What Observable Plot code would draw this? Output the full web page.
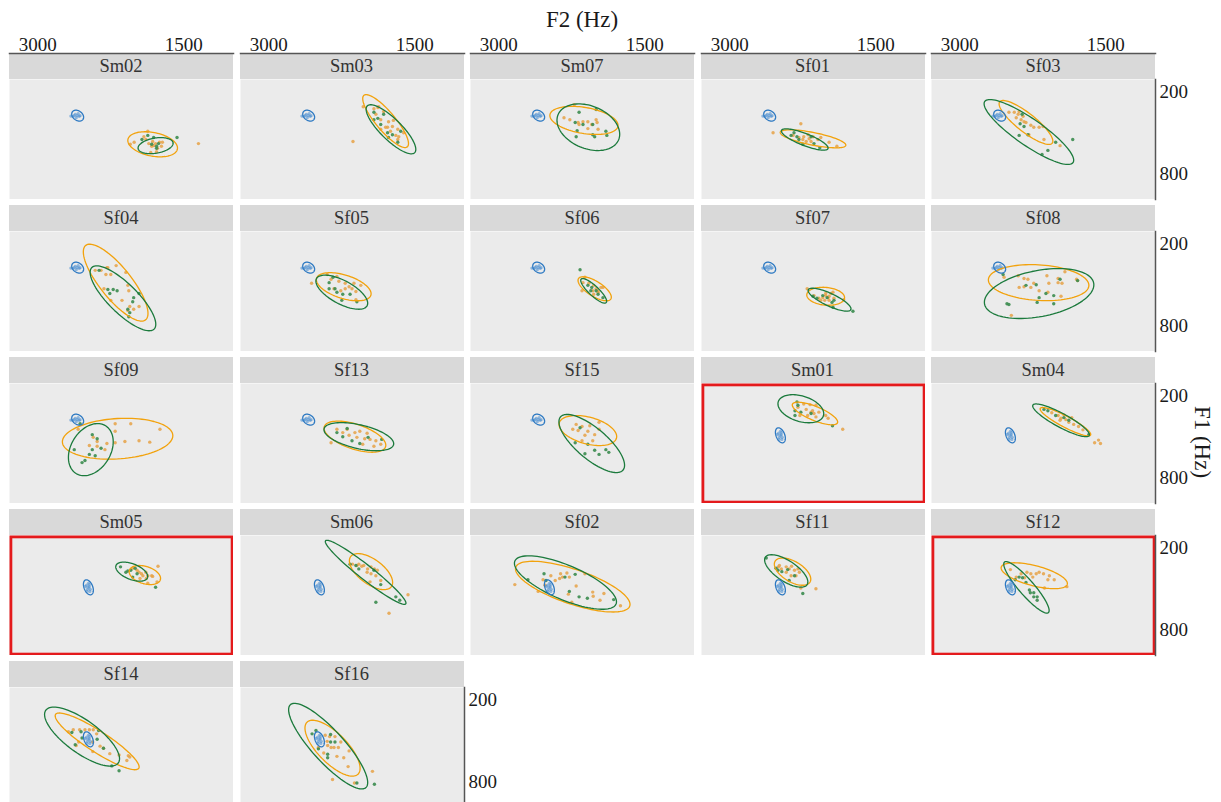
<!DOCTYPE html>
<html><head><meta charset="utf-8">
<script src="https://cdn.jsdelivr.net/npm/d3@7"></script>
<script src="https://cdn.jsdelivr.net/npm/@observablehq/plot@0.6"></script>
<style>
html,body{margin:0;padding:0;background:#fff;overflow:hidden}
#chart{position:relative;width:1221px;height:802px;overflow:hidden;font-family:"Liberation Serif","Times New Roman",serif;color:#1a1a1a}
.strip{position:absolute;background:#d9d9d9;height:26px;display:flex;align-items:center;justify-content:center;font-size:18.5px;font-weight:normal;color:#333}
.ttl{position:absolute;font-size:23px;white-space:nowrap;color:#1a1a1a}
</style></head><body><div id="chart"></div><script>
// ---------------- DATA ----------------
const speakers = ["Sm02","Sm03","Sm07","Sf01","Sf03","Sf04","Sf05","Sf06","Sf07","Sf08","Sf09","Sf13","Sf15","Sm01","Sm04","Sm05","Sm06","Sf02","Sf11","Sf12","Sf14","Sf16"];
const highlighted = ["Sm01","Sm05","Sf12"];
const xTicks = [3000, 1500];
const yTicks = [200, 800];
const xTitle = "F2 (Hz)";
const yTitle = "F1 (Hz)";

// orange group tokens: [speaker, F2, F1]
const orangeTokens = [
["Sm02",1870,490],["Sm02",1910,530],["Sm02",2010,570],["Sm02",2050,585],["Sm02",1890,550],["Sm02",1820,565],["Sm02",1790,580],["Sm02",1750,570],["Sm02",1730,600],["Sm02",1810,595],["Sm02",1830,600],["Sm02",1770,615],["Sm02",1840,645],["Sm02",1780,640],["Sm02",1350,580],["Sm02",1860,580],["Sm02",1720,570],
["Sm03",2030,310],["Sm03",1920,325],["Sm03",1880,315],["Sm03",1820,345],["Sm03",1900,365],["Sm03",1850,405],["Sm03",1770,420],["Sm03",1720,410],["Sm03",1780,460],["Sm03",1730,455],["Sm03",1675,475],["Sm03",1750,490],["Sm03",1695,520],["Sm03",1665,530],["Sm03",1615,500],["Sm03",1675,550],["Sm03",1850,475],["Sm03",2135,565],["Sm03",1870,310],["Sm03",1800,460],
["Sm07",2225,295],["Sm07",2330,390],["Sm07",2270,405],["Sm07",2135,420],["Sm07",2085,420],["Sm07",2000,405],["Sm07",1990,425],["Sm07",2175,440],["Sm07",2085,470],["Sm07",1980,475],["Sm07",2185,425],["Sm07",2045,440],
["Sf01",2555,500],["Sf01",2270,435],["Sf01",2350,520],["Sf01",2290,535],["Sf01",2240,530],["Sf01",2195,515],["Sf01",2185,545],["Sf01",2145,530],["Sf01",2165,565],["Sf01",2095,550],["Sf01",2065,535],["Sf01",1980,570],["Sf01",1900,600],["Sf01",2215,565],["Sf01",2250,550],
["Sf03",2495,350],["Sf03",2440,350],["Sf03",2390,345],["Sf03",2420,390],["Sf03",2370,405],["Sf03",2340,420],["Sf03",2320,425],["Sf03",2270,445],["Sf03",2240,460],["Sf03",2185,460],["Sf03",2145,455],["Sf03",2290,515],["Sf03",2135,550],["Sf03",1970,595],["Sf03",2400,365],["Sf03",2350,380],
["Sf04",2410,395],["Sf04",2290,375],["Sf04",2280,375],["Sf04",2195,360],["Sf04",2300,425],["Sf04",2250,425],["Sf04",2095,410],["Sf04",2320,530],["Sf04",2075,505],["Sf04",2065,545],["Sf04",2250,615],["Sf04",2135,615],["Sf04",2055,660],["Sf04",2015,680],["Sf04",1960,660],["Sf04",2075,690],["Sf04",2350,395],
["Sf05",2560,490],["Sf05",2400,425],["Sf05",2300,440],["Sf05",2360,460],["Sf05",2280,475],["Sf05",2215,490],["Sf05",2125,490],["Sf05",2055,505],["Sf05",2330,530],["Sf05",2215,530],["Sf05",2145,530],["Sf05",2105,550],["Sf05",2260,545],["Sf05",2105,610],["Sf05",2175,515],
["Sf06",2135,485],["Sf06",2115,445],["Sf06",2075,490],["Sf06",2025,505],["Sf06",2000,530],["Sf06",1980,545],["Sf06",1950,520],["Sf06",1930,520],["Sf06",2035,545],["Sf06",2145,545],["Sf06",1980,555],["Sf06",2025,570],
["Sf07",2205,530],["Sf07",2135,580],["Sf07",2085,600],["Sf07",2045,595],["Sf07",2015,580],["Sf07",1990,595],["Sf07",1980,585],["Sf07",1960,565],["Sf07",1940,555],["Sf07",2025,615],["Sf07",1980,615],["Sf07",1930,600],["Sf07",1830,610],["Sf07",2065,615],["Sf07",2015,565],
["Sf08",2545,445],["Sf08",2400,435],["Sf08",2340,455],["Sf08",2300,460],["Sf08",2240,490],["Sf08",2105,435],["Sf08",2085,490],["Sf08",1990,455],["Sf08",1990,485],["Sf08",1950,490],["Sf08",1920,405],["Sf08",1800,460],["Sf08",1790,470],["Sf08",2390,520],["Sf08",2340,515],["Sf08",2270,520],["Sf08",2185,545],["Sf08",2095,555],["Sf08",1960,585],["Sf08",2470,725],
["Sf09",2205,405],["Sf09",2045,405],["Sf09",1745,445],["Sf09",1850,540],["Sf09",1960,530],["Sf09",2205,460],["Sf09",2205,545],["Sf09",2290,550],["Sf09",2390,535],["Sf09",2430,505],["Sf09",2470,565],["Sf09",2390,570],["Sf09",2105,535],["Sf09",2310,595],["Sf09",2585,445],
["Sf13",2300,445],["Sf13",2195,445],["Sf13",2115,470],["Sf13",2065,460],["Sf13",1990,475],["Sf13",2095,505],["Sf13",2015,515],["Sf13",1960,520],["Sf13",1900,530],["Sf13",2035,555],["Sf13",1850,555],["Sf13",1920,570],["Sf13",2175,490],["Sf13",2360,545],["Sf13",2240,470],
["Sf15",2205,410],["Sf15",2145,425],["Sf15",2065,420],["Sf15",1970,395],["Sf15",2185,455],["Sf15",2085,460],["Sf15",2115,490],["Sf15",2015,485],["Sf15",1970,445],["Sf15",2145,530],["Sf15",2035,530],["Sf15",2240,445],
["Sm01",2240,260],["Sm01",2175,265],["Sm01",2115,270],["Sm01",2300,285],["Sm01",2215,300],["Sm01",2165,320],["Sm01",2135,330],["Sm01",2085,320],["Sm01",2200,345],["Sm01",2115,355],["Sm01",2015,345],["Sm01",1990,365],["Sm01",2280,345],["Sm01",1840,445],["Sm01",2150,310],
["Sm04",2055,325],["Sm04",1990,345],["Sm04",1960,365],["Sm04",1910,375],["Sm04",1880,395],["Sm04",1830,410],["Sm04",1780,425],["Sm04",1930,340],["Sm04",1850,360],["Sm04",1575,525],["Sm04",1555,550],["Sm04",1615,545],["Sm04",1735,450],["Sm04",1970,380],
["Sm05",2025,350],["Sm05",1980,365],["Sm05",1960,380],["Sm05",1935,390],["Sm05",1890,380],["Sm05",1870,405],["Sm05",1830,405],["Sm05",1820,410],["Sm05",1885,425],["Sm05",1950,425],["Sm05",1765,335],["Sm05",1775,450],["Sm05",1870,460],["Sm05",1920,405],
["Sm06",2140,320],["Sm06",2095,330],["Sm06",2045,335],["Sm06",2025,330],["Sm06",1985,355],["Sm06",1950,340],["Sm06",1915,355],["Sm06",1885,365],["Sm06",1990,380],["Sm06",1950,390],["Sm06",1900,405],["Sm06",1960,450],["Sm06",1850,440],["Sm06",1570,545],["Sm06",1765,680],["Sm06",2075,320],
["Sf02",2835,470],["Sf02",2595,520],["Sf02",2545,435],["Sf02",2465,405],["Sf02",2420,440],["Sf02",2375,425],["Sf02",2365,390],["Sf02",2300,385],["Sf02",2275,415],["Sf02",2345,415],["Sf02",2115,390],["Sf02",2205,480],["Sf02",2285,540],["Sf02",2035,525],["Sf02",2030,555],["Sf02",1920,535],["Sf02",1960,585],["Sf02",1750,625],["Sf02",2250,600],["Sf02",2525,475],
["Sf11",2500,340],["Sf11",2470,355],["Sf11",2420,340],["Sf11",2390,355],["Sf11",2365,335],["Sf11",2335,365],["Sf11",2300,355],["Sf11",2285,380],["Sf11",2320,405],["Sf11",2370,405],["Sf11",2420,380],["Sf11",2270,495],["Sf11",2115,500],["Sf11",2490,330],
["Sf12",2480,360],["Sf12",2370,390],["Sf12",2310,380],["Sf12",2270,390],["Sf12",2215,390],["Sf12",2185,380],["Sf12",2140,390],["Sf12",2080,405],["Sf12",2095,435],["Sf12",2030,435],["Sf12",1900,485],["Sf12",2130,495],["Sf12",2250,415],["Sf12",2335,420],["Sf12",2420,415],
["Sf14",2685,435],["Sf14",2635,420],["Sf14",2570,420],["Sf14",2515,420],["Sf14",2470,420],["Sf14",2430,420],["Sf14",2395,450],["Sf14",2435,510],["Sf14",2360,540],["Sf14",2325,555],["Sf14",2260,595],["Sf14",2165,605],["Sf14",2070,610],["Sf14",2055,620],["Sf14",2085,645],["Sf14",2580,510],["Sf14",2435,580],["Sf14",2605,535],
["Sf16",2420,460],["Sf16",2375,470],["Sf16",2320,470],["Sf16",2400,505],["Sf16",2260,510],["Sf16",2395,535],["Sf16",2360,550],["Sf16",2330,550],["Sf16",2285,550],["Sf16",2175,575],["Sf16",2435,590],["Sf16",2300,615],["Sf16",2230,625],["Sf16",2185,690],["Sf16",1935,725],["Sf16",2345,785],["Sf16",2120,810],["Sf16",2490,550]
];

// green group tokens: [speaker, F2, F1]
const greenTokens = [
["Sm02",1870,520],["Sm02",1570,535],["Sm02",1810,535],["Sm02",1780,600],["Sm02",1760,580],["Sm02",1780,615],["Sm02",1830,585],["Sm02",1930,550],
["Sm03",1920,350],["Sm03",1880,395],["Sm03",1820,365],["Sm03",1850,440],["Sm03",1780,500],["Sm03",1730,515],["Sm03",1645,490],["Sm03",1770,535],["Sm03",1675,570],["Sm03",1920,405],
["Sm07",2175,350],["Sm07",2215,425],["Sm07",2135,440],["Sm07",2035,440],["Sm07",2195,485],["Sm07",2205,530],["Sm07",2035,515],["Sm07",2015,530],["Sm07",1900,490],["Sm07",1890,520],["Sm07",2000,330],
["Sf01",2340,500],["Sf01",2370,520],["Sf01",2290,550],["Sf01",2250,585],["Sf01",2135,580],["Sf01",2075,610],["Sf01",2165,530],["Sf01",2310,530],
["Sf03",2360,365],["Sf03",2380,435],["Sf03",2340,455],["Sf03",2390,520],["Sf03",2300,515],["Sf03",2015,570],["Sf03",1840,550],["Sf03",2095,630],["Sf03",2155,660],
["Sf04",2370,395],["Sf04",2280,535],["Sf04",2225,535],["Sf04",2185,545],["Sf04",2260,565],["Sf04",2015,595],["Sf04",2025,625],["Sf04",1960,565],["Sf04",2075,680],["Sf04",2055,705],["Sf04",2065,735],
["Sf05",2380,485],["Sf05",2380,530],["Sf05",2320,530],["Sf05",2300,555],["Sf05",2240,570],["Sf05",2250,615],["Sf05",2165,570],["Sf05",2095,625],["Sf05",2340,445],
["Sf06",2165,390],["Sf06",2085,505],["Sf06",2045,520],["Sf06",2000,545],["Sf06",1980,570],["Sf06",1930,595],["Sf06",2055,545],
["Sf07",2145,585],["Sf07",2045,580],["Sf07",2000,595],["Sf07",1950,630],["Sf07",1930,615],["Sf07",1940,665],["Sf07",1735,695],["Sf07",2105,600],
["Sf08",2555,425],["Sf08",2320,505],["Sf08",2215,500],["Sf08",2115,565],["Sf08",2185,595],["Sf08",2035,580],["Sf08",1970,460],["Sf08",2515,640],["Sf08",2495,645],["Sf08",2205,630],["Sf08",2035,640],["Sf08",1790,470],
["Sf09",2440,485],["Sf09",2390,515],["Sf09",2625,595],["Sf09",2440,595],["Sf09",2350,585],["Sf09",2470,630],["Sf09",2410,640],["Sf09",2515,675],["Sf09",2545,690],["Sf09",2565,405],
["Sf13",2300,470],["Sf13",2240,500],["Sf13",2145,530],["Sf13",2065,550],["Sf13",1980,505],["Sf13",1840,520],["Sf13",2195,440],
["Sf15",2215,545],["Sf15",2085,555],["Sf15",2015,600],["Sf15",1900,595],["Sf15",1870,615],["Sf15",1970,630],["Sf15",2115,625],["Sf15",2165,435],
["Sm01",2310,245],["Sm01",2300,270],["Sm01",2330,310],["Sm01",2330,345],["Sm01",2165,330],["Sm01",1945,420],["Sm01",2270,320],
["Sm04",2095,310],["Sm04",2015,345],["Sm04",1930,360],["Sm04",1880,380],["Sm04",1675,485],["Sm04",2135,300],
["Sm05",2150,340],["Sm05",2095,380],["Sm05",2045,365],["Sm05",2000,350],["Sm05",1980,390],["Sm05",2025,415],["Sm05",1790,490],["Sm05",2075,370],
["Sm06",2165,320],["Sm06",2075,355],["Sm06",1920,365],["Sm06",1850,470],["Sm06",1695,560],["Sm06",1655,585],["Sm06",1900,600],["Sm06",2105,330],
["Sf02",2700,435],["Sf02",2535,390],["Sf02",2320,415],["Sf02",2215,395],["Sf02",2275,520],["Sf02",2175,560],["Sf02",2090,570],["Sf02",1820,580],["Sf02",2515,440],
["Sf11",2625,275],["Sf11",2525,350],["Sf11",2465,375],["Sf11",2405,360],["Sf11",2335,405],["Sf11",2390,440],["Sf11",2250,535],["Sf11",2505,365],
["Sf12",2430,435],["Sf12",2390,415],["Sf12",2355,420],["Sf12",2320,455],["Sf12",2285,510],["Sf12",2275,530],["Sf12",2240,560],["Sf12",2205,560],["Sf12",2205,585],["Sf12",2240,530],
["Sf14",2650,440],["Sf14",2555,435],["Sf14",2375,425],["Sf14",2545,480],["Sf14",2390,490],["Sf14",2615,530],["Sf14",2325,555],["Sf14",2240,685],["Sf14",2165,720],
["Sf16",2555,450],["Sf16",2515,425],["Sf16",2365,455],["Sf16",2365,510],["Sf16",2320,510],["Sf16",2395,600],["Sf16",2395,625],["Sf16",2095,810],["Sf16",1915,820],["Sf16",2490,560]
];

// blue reference tokens (two reference sets) : [F2, F1]
const blueTokensA = [[2640,380],[2615,365],[2595,375],[2575,380],[2585,360],[2565,375],[2605,390],[2625,375],[2660,378]];
const blueTokensB = [[2500,475],[2480,490],[2470,470],[2460,505],[2490,505],[2510,485],[2470,485],[2480,460],[2495,520],[2465,520]];
const blueSetB = ["Sm01","Sm04","Sm05","Sm06","Sf02","Sf11","Sf12","Sf14","Sf16"];

// ellipses: [speaker, centre F2, centre F1, half-extent F2, half-extent F1, correlation]
const orangeEllipses = [
["Sm02",1820,585,255,92,-0.3],["Sm03",1800,415,235,194,-0.85],["Sm07",2125,410,350,103,-0.35],["Sf01",2145,545,337,66,-0.7],["Sf03",2320,425,276,161,-0.85],
["Sf04",2200,485,332,282,-0.8],["Sf05",2230,515,281,103,-0.5],["Sf06",2015,530,171,88,-0.7],["Sf07",2015,585,194,66,-0.15],["Sf08",2190,485,516,132,-0.15],
["Sf09",2180,515,567,150,0.15],["Sf13",2115,500,317,114,-0.55],["Sf15",2085,455,296,110,-0.4],["Sm01",2125,330,233,83,-0.75],["Sm04",1915,390,260,104,-0.9],
["Sm05",1900,400,161,70,-0.35],["Sm06",1950,375,222,132,-0.6],["Sf02",2240,485,588,186,-0.7],["Sf11",2355,375,187,100,-0.55],["Sf12",2235,405,340,95,-0.6],
["Sf14",2390,505,431,208,-0.9],["Sf16",2345,555,283,205,-0.72]
];
const greenEllipses = [
["Sm02",1790,595,180,59,0.3],["Sm03",1745,475,255,180,-0.82],["Sm07",2080,460,322,171,-0.3],["Sf01",2230,550,240,78,-0.8],["Sf03",2290,495,460,238,-0.87],
["Sf04",2125,600,337,238,-0.8],["Sf05",2250,555,266,125,-0.65],["Sf06",2025,545,133,90,-0.85],["Sf07",1975,610,220,84,-0.8],["Sf08",2185,565,562,183,0.35],
["Sf09",2455,595,230,191,0.3],["Sf13",2075,500,358,103,-0.5],["Sf15",2045,550,337,213,-0.75],["Sm01",2270,295,235,103,-0.35],["Sm04",1960,380,291,120,-0.88],
["Sm05",2035,375,164,70,-0.5],["Sm06",2005,380,414,235,-0.96],["Sf02",2315,455,524,196,-0.72],["Sf11",2420,370,222,119,-0.68],["Sf12",2315,490,233,189,-0.9],
["Sf14",2545,470,385,216,-0.75],["Sf16",2390,540,406,314,-0.85]
];
const blueEllipseA = [2590,375,61,40,-0.3];
const blueEllipseB = [2480,490,51,55,-0.4];

// ---------------- DRAWING ----------------
const chart = document.getElementById("chart");
const FONT = '"Liberation Serif","Times New Roman",serif';
const PW = 224, PH = 120, STRIP = 26;
const colLeft = c => 9 + c * 230.5;
const rowTop = r => 53 + r * 152;
const xScale = {domain: [3290, 990], axis: null};
const yScale = {domain: [110, 990], reverse: true, axis: null};
const C = {oLine: "#f2a20c", oDot: "#e6a246", gLine: "#1b7a3c", gDot: "#3b8c4f", bLine: "#2d79c2", bDot: "#4f91d2"};

function outline([cx, cy, ax, ay, rho]) {
  const s = Math.sqrt(1 - rho * rho);
  return d3.range(0, 97).map(i => {
    const t = 2 * Math.PI * i / 96;
    return {F2: cx + ax * Math.cos(t), F1: cy + ay * (rho * Math.cos(t) + s * Math.sin(t))};
  });
}
function place(el, left, top) {
  el.style.position = "absolute";
  el.style.left = left + "px";
  el.style.top = top + "px";
  chart.appendChild(el);
}

speakers.forEach((sp, i) => {
  const row = Math.floor(i / 5), col = i % 5;
  const left = colLeft(col), top = rowTop(row);
  const strip = document.createElement("div");
  strip.className = "strip";
  strip.style.width = PW + "px";
  strip.textContent = sp;
  place(strip, left, top);

  const isB = blueSetB.includes(sp);
  const oPts = orangeTokens.filter(d => d[0] === sp).map(d => ({F2: d[1], F1: d[2]}));
  const gPts = greenTokens.filter(d => d[0] === sp).map(d => ({F2: d[1], F1: d[2]}));
  const bPts = (isB ? blueTokensB : blueTokensA).map(d => ({F2: d[0], F1: d[1]}));
  const oE = orangeEllipses.find(d => d[0] === sp).slice(1);
  const gE = greenEllipses.find(d => d[0] === sp).slice(1);
  const bE = isB ? blueEllipseB : blueEllipseA;

  const marks = [
    Plot.frame({fill: "#ebebeb", stroke: "none"}),
    Plot.dot(oPts, {x: "F2", y: "F1", r: 1.7, fill: C.oDot, fillOpacity: 0.85}),
    Plot.dot(gPts, {x: "F2", y: "F1", r: 1.7, fill: C.gDot, fillOpacity: 0.9}),
    Plot.dot(bPts, {x: "F2", y: "F1", r: 1.6, fill: C.bDot, fillOpacity: 0.6}),
    Plot.line(outline(oE), {x: "F2", y: "F1", stroke: C.oLine, strokeWidth: 1.3}),
    Plot.line(outline(gE), {x: "F2", y: "F1", stroke: C.gLine, strokeWidth: 1.3}),
    Plot.line(outline(bE), {x: "F2", y: "F1", stroke: C.bLine, strokeWidth: 1.3})
  ];
  if (highlighted.includes(sp)) marks.push(Plot.frame({stroke: "#e41a1c", strokeWidth: 2.8, inset: 1.4}));
  const svg = Plot.plot({width: PW, height: PH, margin: 0, x: xScale, y: yScale,
    style: {background: "transparent"}, marks});
  place(svg, left, top + STRIP);
});

// top axes (one per column)
for (let c = 0; c < 5; c++) {
  const ax = Plot.plot({
    width: PW, height: 26, marginTop: 25, marginBottom: 0, marginLeft: 0, marginRight: 0,
    x: {domain: [3290, 990]},
    style: {background: "transparent", fontFamily: FONT, fontSize: "19px", color: "#1a1a1a", overflow: "visible"},
    marks: [
      Plot.frame({anchor: "top", stroke: "#555", strokeWidth: 1.5}),
      Plot.axisX(xTicks, {anchor: "top", tickSize: 0, tickPadding: 3, tickFormat: d3.format("d"), label: null, fontSize: 19})
    ]
  });
  place(ax, colLeft(c), 52.5 - 25);
}

// right axes (rows 1-4 at the last column; last row after the second panel)
const rightAxes = [[colLeft(4) + PW, rowTop(0) + STRIP], [colLeft(4) + PW, rowTop(1) + STRIP], [colLeft(4) + PW, rowTop(2) + STRIP], [colLeft(4) + PW, rowTop(3) + STRIP], [colLeft(1) + PW, rowTop(4) + STRIP]];
rightAxes.forEach(([x, y]) => {
  const ax = Plot.plot({
    width: 50, height: PH, marginLeft: 0, marginRight: 49, marginTop: 0, marginBottom: 0,
    y: {domain: [110, 990], reverse: true},
    style: {background: "transparent", fontFamily: FONT, fontSize: "19px", color: "#1a1a1a", overflow: "visible"},
    marks: [
      Plot.frame({anchor: "right", stroke: "#555", strokeWidth: 1.5}),
      Plot.axisY(yTicks, {anchor: "right", tickSize: 0, tickPadding: 4, tickFormat: d3.format("d"), label: null, fontSize: 19})
    ]
  });
  place(ax, x - 1, y);
});

// axis titles
const t1 = document.createElement("div");
t1.className = "ttl"; t1.textContent = xTitle;
t1.style.transform = "translate(-50%,-50%)";
place(t1, 582, 20);
const t2 = document.createElement("div");
t2.className = "ttl"; t2.textContent = yTitle;
t2.style.transform = "translate(-50%,-50%) rotate(90deg)";
place(t2, 1202, 442);
</script></body></html>
